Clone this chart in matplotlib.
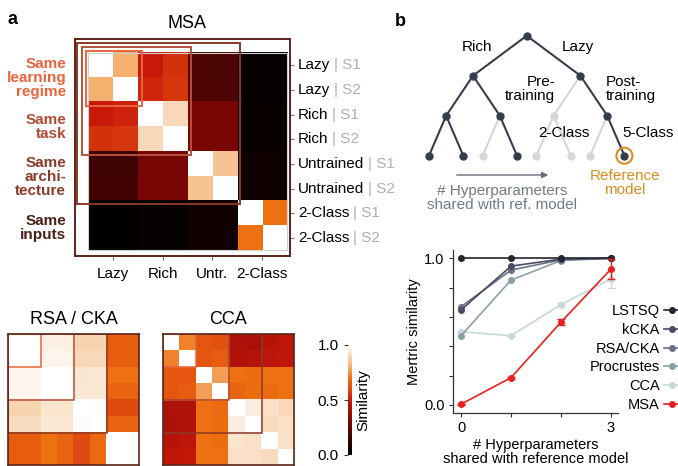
import numpy as np
import matplotlib
matplotlib.use("Agg")
import matplotlib.pyplot as plt
from matplotlib.colors import LinearSegmentedColormap
from matplotlib.patches import Rectangle, Circle
from matplotlib import transforms

plt.rcParams["font.family"] = ["Liberation Sans", "DejaVu Sans"]

# ---- data ----
row_names = ["Lazy", "Lazy", "Rich", "Rich", "Untrained", "Untrained", "2-Class", "2-Class"]
row_seeds = ["S1", "S2", "S1", "S2", "S1", "S2", "S1", "S2"]
group_names = ["Lazy", "Rich", "Untr.", "2-Class"]
box_names = ["Same\nlearning\nregime", "Same\ntask", "Same\narchi-\ntecture", "Same\ninputs"]

msa = np.array([
    [1.00, 0.80, 0.50, 0.55, 0.20, 0.20, 0.02, 0.02],
    [0.80, 1.00, 0.53, 0.56, 0.21, 0.21, 0.02, 0.02],
    [0.50, 0.52, 1.00, 0.90, 0.30, 0.30, 0.03, 0.03],
    [0.55, 0.56, 0.90, 1.00, 0.30, 0.30, 0.03, 0.03],
    [0.17, 0.17, 0.30, 0.30, 1.00, 0.85, 0.04, 0.04],
    [0.18, 0.18, 0.30, 0.30, 0.85, 1.00, 0.04, 0.04],
    [0.01, 0.01, 0.02, 0.02, 0.05, 0.05, 1.00, 0.70],
    [0.01, 0.01, 0.02, 0.02, 0.05, 0.05, 0.70, 1.00],
])

rsa = np.array([
    [1.00, 1.00, 0.96, 0.96, 0.89, 0.89, 0.65, 0.65],
    [1.00, 1.00, 0.97, 0.97, 0.90, 0.90, 0.65, 0.65],
    [0.97, 0.97, 1.00, 1.00, 0.93, 0.94, 0.70, 0.70],
    [0.97, 0.97, 1.00, 1.00, 0.94, 0.94, 0.67, 0.67],
    [0.89, 0.89, 0.93, 0.93, 1.00, 0.99, 0.60, 0.60],
    [0.91, 0.91, 0.94, 0.94, 0.99, 1.00, 0.67, 0.67],
    [0.65, 0.65, 0.70, 0.67, 0.60, 0.68, 1.00, 1.00],
    [0.65, 0.65, 0.70, 0.67, 0.60, 0.68, 1.00, 1.00],
])

cca = np.array([
    [1.00, 0.73, 0.63, 0.62, 0.43, 0.42, 0.46, 0.47],
    [0.73, 1.00, 0.63, 0.65, 0.44, 0.45, 0.47, 0.48],
    [0.63, 0.63, 1.00, 0.77, 0.70, 0.69, 0.70, 0.70],
    [0.63, 0.65, 0.77, 1.00, 0.67, 0.69, 0.68, 0.70],
    [0.43, 0.43, 0.70, 0.68, 1.00, 0.95, 0.92, 0.90],
    [0.42, 0.44, 0.70, 0.69, 0.95, 1.00, 0.91, 0.92],
    [0.46, 0.47, 0.70, 0.69, 0.93, 0.92, 1.00, 0.92],
    [0.48, 0.49, 0.70, 0.70, 0.92, 0.92, 0.91, 1.00],
])

x_shared = [0, 1, 2, 3]
methods = ["LSTSQ", "kCKA", "RSA/CKA", "Procrustes", "CCA", "MSA"]
sim_lstsq = [1.00, 1.00, 1.00, 1.00]
sim_kcka = [0.648, 0.947, 0.995, 1.00]
sim_rsa = [0.67, 0.92, 0.99, 1.00]
sim_procrustes = [0.472, 0.852, 0.985, 1.00]
sim_cca = [0.50, 0.472, 0.685, 0.86]
sim_msa = [0.005, 0.186, 0.565, 0.927]
err_cca = [0.0, 0.0, 0.012, 0.06]
err_msa = [0.004, 0.008, 0.02, 0.07]

# tree: 1 = on path (dark), 0 = off path (grey)
tree_dark = [[1], [1, 1], [1, 1, 0, 1], [1, 1, 0, 1, 0, 0, 0, 1]]

# ---- style ----
W, H = 678, 466
cmap = LinearSegmentedColormap.from_list("sim", [
    (0.0, "#000000"), (0.2, "#4a0404"), (0.3, "#7a0606"), (0.5, "#c8180a"),
    (0.6, "#e04a10"), (0.7, "#ee7010"), (0.8, "#f5b070"), (0.9, "#f8d8b8"),
    (1.0, "#ffffff")])
box_cols = ["#e8643c", "#b8503a", "#8a3a28", "#5a2418"]
label_cols = ["#e8643c", "#b04a35", "#8a3a28", "#4a2015"]
dark = "#353d4d"
light = "#d6d6d8"
orange = "#d98c1f"
grey_txt = "#737b88"


def px(x, y):
    return x / W, 1 - y / H


def axes_px(x0, y0, x1, y1, **kw):
    return fig.add_axes([x0 / W, 1 - y1 / H, (x1 - x0) / W, (y1 - y0) / H], **kw)


fig = plt.figure(figsize=(W / 100, H / 100), dpi=100)

# ---- panel a: MSA ----
ax = axes_px(75, 39, 290, 256)
im = ax.imshow(msa, cmap=cmap, vmin=0, vmax=1, extent=(0, 8, 8, 0),
               aspect="auto", interpolation="nearest")
ax.add_patch(Rectangle((0, 0), 8, 8, fill=False, ec="#cfcfcf", lw=0.8))
ax.set_xlim(-0.52, 8.12)
ax.set_ylim(8.24, -0.57)
pads_l = [0.08, 0.24, 0.42]
pads_r = [0.16, 0.15, 0.13]
for k in [2, 1, 0]:
    n = 2 * (k + 1)
    pl, pr = pads_l[k], pads_r[k]
    ax.add_patch(Rectangle((-pl, -pl), n + pl + pr, n + pl + pr, fill=False,
                           ec=box_cols[k], lw=1.4))
for s in ax.spines.values():
    s.set_color(box_cols[3])
    s.set_linewidth(1.4)
ax.yaxis.tick_right()
ax.set_yticks(np.arange(8) + 0.5)
ax.set_yticklabels([])
ax.set_xticks([1, 3, 5, 7])
ax.set_xticklabels(group_names, fontsize=11)
ax.tick_params(length=3, color="#777777", width=0.8, pad=5)

fig.text(*px(187, 23), "MSA", fontsize=13, ha="center", va="center")

# row labels, two colours
trans = transforms.blended_transform_factory(ax.transAxes, ax.transData)
row_texts = []
for i, name in enumerate(row_names):
    t = ax.text((298 - 75) / 215, i + 0.5, name, transform=trans, fontsize=11,
                ha="left", va="center")
    row_texts.append(t)

# box labels on the left
label_y = [78, 127, 177, 228]
for name, col, y in zip(box_names, label_cols, label_y):
    fig.text(*px(66, y), name, fontsize=11, fontweight="bold", color=col,
             ha="right", va="center", linespacing=0.98)

fig.text(*px(13, 20), "a", fontsize=13, fontweight="bold", ha="center", va="center")
fig.text(*px(400, 22), "b", fontsize=13, fontweight="bold", ha="center", va="center")

# ---- lower heatmaps ----
for mat, title, x0 in [(rsa, "RSA / CKA", 8), (cca, "CCA", 163)]:
    a2 = axes_px(x0, 334, x0 + 131, 465)
    a2.imshow(mat, cmap=cmap, vmin=0, vmax=1, extent=(0, 8, 8, 0),
              aspect="auto", interpolation="nearest")
    a2.set_xlim(0, 8)
    a2.set_ylim(8, 0)
    for k in [2, 1, 0]:
        n = 2 * (k + 1)
        a2.add_patch(Rectangle((0.02, 0.02), n, n, fill=False, ec=box_cols[k], lw=1.1))
    for s in a2.spines.values():
        s.set_color(box_cols[3])
        s.set_linewidth(1.2)
    a2.set_xticks([])
    a2.set_yticks([])
    fig.text(*px(x0 + 65.5, 320), title, fontsize=13, ha="center", va="center")

cax = axes_px(348, 345, 352, 455)
cb = fig.colorbar(im, cax=cax)
cb.outline.set_visible(False)
cax.yaxis.set_ticks_position("left")
cax.yaxis.set_label_position("right")
cb.set_ticks([0, 0.5, 1.0])
cb.set_ticklabels(["0.0", "0.5", "1.0"])
cax.tick_params(labelsize=11, length=3, width=0.8, color="#333333")
cb.set_label("Similarity", fontsize=11, labelpad=3)

# ---- panel b: tree ----
at = fig.add_axes([0, 0, 1, 1])
at.set_xlim(0, W)
at.set_ylim(H, 0)
at.axis("off")
at.patch.set_visible(False)

n_levels = len(tree_dark)
xs = [[429 + 53.7 * (i // 2) + 34.3 * (i % 2) for i in range(len(tree_dark[-1]))]]
for lev in range(n_levels - 2, -1, -1):
    child = xs[0]
    xs.insert(0, [(child[2 * j] + child[2 * j + 1]) / 2 for j in range(len(tree_dark[lev]))])
ys = [35.7 + 40 * lev for lev in range(n_levels)]
for lev in range(1, n_levels):
    for j, on in enumerate(tree_dark[lev]):
        at.plot([xs[lev - 1][j // 2], xs[lev][j]], [ys[lev - 1], ys[lev]],
                color=dark if on else light, lw=1.5, zorder=1)
for lev in range(n_levels):
    for j, on in enumerate(tree_dark[lev]):
        at.plot(xs[lev][j], ys[lev], "o", ms=5, color=dark if on else light, zorder=2)

at.add_patch(Circle((xs[-1][-1], ys[-1]), 8, fill=False, ec=orange, lw=1.5))
tfs = 11
at.text(477, 47, "Rich", fontsize=tfs, ha="center", va="center")
at.text(578, 47, "Lazy", fontsize=tfs, ha="center", va="center")
at.text(555, 89, "Pre-\ntraining", fontsize=tfs, ha="right", va="center", linespacing=1.05)
at.text(606, 89, "Post-\ntraining", fontsize=tfs, ha="left", va="center", linespacing=1.05)
at.text(564, 133, "2-Class", fontsize=tfs, ha="center", va="center")
at.text(622, 133, "5-Class", fontsize=tfs, ha="left", va="center")
at.text(625, 183, "Reference\nmodel", fontsize=tfs, ha="center", va="center",
        color=orange, linespacing=1.0)
at.annotate("", xy=(551, 175), xytext=(454, 175),
            arrowprops=dict(arrowstyle="-|>", color="#656d7a", lw=1, mutation_scale=9))
at.text(502, 198, "# Hyperparameters\nshared with ref. model", fontsize=tfs,
        ha="center", va="center", color=grey_txt, linespacing=0.95)

# ---- panel b: line plot ----
al = axes_px(453, 250, 618, 413)
series = [sim_lstsq, sim_kcka, sim_rsa, sim_procrustes, sim_cca, sim_msa]
errs = [None, None, None, None, err_cca, err_msa]
line_cols = ["#23252f", "#4b4b66", "#6b7185", "#8ba0a6", "#c5d9d8", "#e8201e"]
zs = [6, 5, 4, 3, 2, 7]
handles = []
for name, vals, e, c, z in zip(methods, series, errs, line_cols, zs):
    h, = al.plot(x_shared, vals, "-o", color=c, lw=1.2, ms=4, label=name, zorder=z)
    if e is not None:
        al.errorbar(x_shared, vals, yerr=e, fmt="none", ecolor=c, elinewidth=1,
                    capsize=3, zorder=z)
    handles.append(h)
al.set_xlim(-0.16, 3.14)
al.set_ylim(-0.055, 1.057)
al.set_xticks(x_shared)
al.set_xticklabels(["0", "", "", "3"])
al.set_yticks([0, 0.2, 0.4, 0.6, 0.8, 1.0])
al.set_yticklabels(["0.0", "", "", "", "", "1.0"])
al.tick_params(labelsize=10.5, length=3, width=0.8, color="#333333", pad=3)
for s in ["top", "right"]:
    al.spines[s].set_visible(False)
for s in ["left", "bottom"]:
    al.spines[s].set_color("#333333")
    al.spines[s].set_linewidth(0.9)
al.set_ylabel("Mertric similarity", fontsize=10.5, labelpad=2)
al.set_xlabel("# Hyperparameters\nshared with reference model", fontsize=10.5,
              labelpad=2, linespacing=0.95)
al.legend(handles=handles, loc="upper right", bbox_to_anchor=px(680, 304),
          bbox_transform=fig.transFigure, frameon=False, markerfirst=False,
          fontsize=10.5, handlelength=1.1, handletextpad=0.3, labelspacing=0.33,
          borderaxespad=0, borderpad=0)

# second, grey part of the row labels
fig.canvas.draw()
renderer = fig.canvas.get_renderer()
inv = ax.transAxes.inverted()
for t, seed in zip(row_texts, row_seeds):
    bb = t.get_window_extent(renderer)
    x_end = inv.transform((bb.x1, bb.y0))[0]
    ax.text(x_end + 4 / 215, t.get_position()[1], "| " + seed, transform=trans,
            fontsize=11, color="#a8b0c0", ha="left", va="center")

fig.savefig("out.png", dpi=100)
